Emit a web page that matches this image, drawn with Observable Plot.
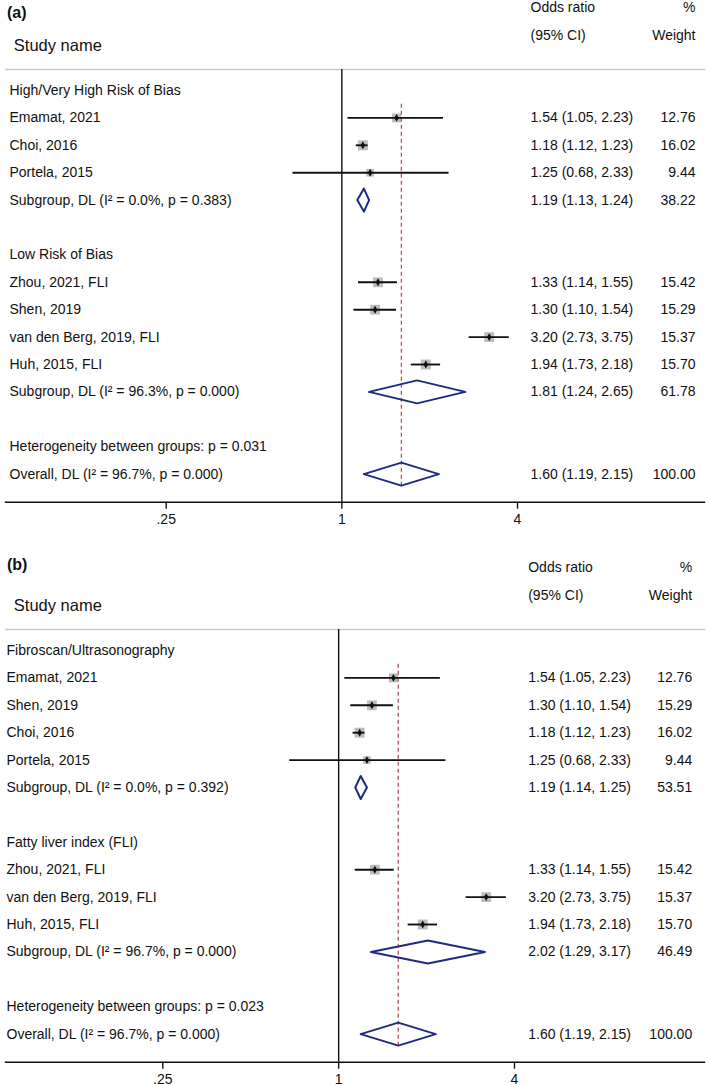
<!DOCTYPE html>
<html><head><meta charset="utf-8">
<script src="https://cdn.jsdelivr.net/npm/d3@7"></script>
<script src="https://cdn.jsdelivr.net/npm/@observablehq/plot@0.6"></script>
<style>
body{margin:0;background:#fff;}
#chart svg{display:block;}
</style></head><body><div id="chart"></div>
<script>
// ---------- shared ----------
const tickValues = [0.25, 1, 4];
const tickLabels = [".25", "1", "4"];
const headerOR = ["Odds ratio", "(95% CI)"];
const headerW = ["%", "Weight"];
const studyHeader = "Study name";

// ---------- panel (a) ----------
const groupsA = ["High/Very High Risk of Bias", "Low Risk of Bias"];
const studyA = ["Emamat, 2021", "Choi, 2016", "Portela, 2015", "Zhou, 2021, FLI", "Shen, 2019", "van den Berg, 2019, FLI", "Huh, 2015, FLI"];
const studyGroupA = [0, 0, 0, 1, 1, 1, 1];
const orA = [1.54, 1.18, 1.25, 1.33, 1.30, 3.20, 1.94];
const loA = [1.05, 1.12, 0.68, 1.14, 1.10, 2.73, 1.73];
const hiA = [2.23, 1.23, 2.33, 1.55, 1.54, 3.75, 2.18];
const weightA = [12.76, 16.02, 9.44, 15.42, 15.29, 15.37, 15.70];
const subLabelA = ["Subgroup, DL (I² = 0.0%, p = 0.383)", "Subgroup, DL (I² = 96.3%, p = 0.000)"];
const subOrA = [1.19, 1.81];
const subLoA = [1.13, 1.24];
const subHiA = [1.24, 2.65];
const subWeightA = [38.22, 61.78];
const hetA = "Heterogeneity between groups: p = 0.031";
const overallLabelA = "Overall, DL (I² = 96.7%, p = 0.000)";
const overallA = [1.60, 1.19, 2.15, 100.00]; // OR, lower, upper, weight

// ---------- panel (b) ----------
const groupsB = ["Fibroscan/Ultrasonography", "Fatty liver index (FLI)"];
const studyB = ["Emamat, 2021", "Shen, 2019", "Choi, 2016", "Portela, 2015", "Zhou, 2021, FLI", "van den Berg, 2019, FLI", "Huh, 2015, FLI"];
const studyGroupB = [0, 0, 0, 0, 1, 1, 1];
const orB = [1.54, 1.30, 1.18, 1.25, 1.33, 3.20, 1.94];
const loB = [1.05, 1.10, 1.12, 0.68, 1.14, 2.73, 1.73];
const hiB = [2.23, 1.54, 1.23, 2.33, 1.55, 3.75, 2.18];
const weightB = [12.76, 15.29, 16.02, 9.44, 15.42, 15.37, 15.70];
const subLabelB = ["Subgroup, DL (I² = 0.0%, p = 0.392)", "Subgroup, DL (I² = 96.7%, p = 0.000)"];
const subOrB = [1.19, 2.02];
const subLoB = [1.14, 1.29];
const subHiB = [1.25, 3.17];
const subWeightB = [53.51, 46.49];
const hetB = "Heterogeneity between groups: p = 0.023";
const overallLabelB = "Overall, DL (I² = 96.7%, p = 0.000)";
const overallB = [1.60, 1.19, 2.15, 100.00];

// ---------- build ----------
function buildRows(p) {
  const rows = []; let r = 0;
  p.groups.forEach((g, gi) => {
    rows.push({kind: "header", row: r++, label: g});
    p.study.forEach((s, i) => {
      if (p.studyGroup[i] === gi) rows.push({kind: "study", row: r++, label: s, or: p.or[i], lo: p.lo[i], hi: p.hi[i], w: p.w[i]});
    });
    rows.push({kind: "pooled", row: r++, label: p.subLabel[gi], or: p.subOr[gi], lo: p.subLo[gi], hi: p.subHi[gi], w: p.subW[gi]});
    r++;
  });
  rows.push({kind: "het", row: r++, label: p.het});
  rows.push({kind: "pooled", row: r++, label: p.overallLabel, or: p.overall[0], lo: p.overall[1], hi: p.overall[2], w: p.overall[3]});
  return rows;
}

const ROW0 = 90, ROWH = 27.4, AXIS = 501.7, SEP = 69, W = 709, ML = 5, MR = 5;
const yr = px => (px - ROW0) / ROWH;
const font = "'Liberation Sans', Arial, Helvetica, sans-serif";
const ink = "#111";

function panel(p, L) {
  const rows = buildRows(p);
  const last = rows[rows.length - 1].row;
  const studies = rows.filter(d => d.kind === "study");
  const pooled = rows.filter(d => d.kind === "pooled");
  const numeric = rows.filter(d => d.or != null);
  const H = 11.5 / ROWH;
  const dia = pooled.flatMap((d, i) => [
    {x: d.lo, y: d.row, id: i}, {x: d.or, y: d.row - H, id: i},
    {x: d.hi, y: d.row, id: i}, {x: d.or, y: d.row + H, id: i},
    {x: d.lo, y: d.row, id: i}
  ]);
  const fmt = d => `${d.or.toFixed(2)} (${d.lo.toFixed(2)}, ${d.hi.toFixed(2)})`;
  const leftDx = x => x - ML;
  const rightDx = x => x - (W - MR);
  return Plot.plot({
    width: W, height: L.height,
    marginLeft: ML, marginRight: MR, marginTop: SEP, marginBottom: L.height - AXIS,
    x: {type: "log", domain: [0.25, 4], range: [L.x025, L.x4]},
    y: {domain: [0, last], range: [ROW0, ROW0 + last * ROWH], axis: null},
    r: {domain: [0, 16], range: [0, 10 / Math.sqrt(Math.PI)]},
    style: {fontFamily: font, fontSize: "14px", color: ink, background: "#fff", overflow: "visible"},
    marks: [
      Plot.frame({anchor: "top", stroke: "#c9c9c9", strokeWidth: 1.5}),
      Plot.frame({anchor: "bottom", stroke: ink, strokeWidth: 1.4}),
      Plot.axisX({ticks: tickValues, tickFormat: d => tickLabels[tickValues.indexOf(d)], tickSize: 7, tickPadding: 5, fontSize: 14, strokeWidth: 1.4, label: null}),
      Plot.ruleX([1], {stroke: ink, strokeWidth: 1.4}),
      Plot.dot(studies, {x: "or", y: "row", r: "w", symbol: "square", fill: "#bdbdbd"}),
      Plot.ruleX([p.overall[0]], {y1: 0.5, y2: last + 0.5, stroke: "#b5525c", strokeDasharray: "4,3", strokeWidth: 1.3}),
      Plot.ruleY(studies, {y: "row", x1: "lo", x2: "hi", stroke: ink, strokeWidth: 1.9}),
      Plot.dot(studies, {x: "or", y: "row", r: 2.4, symbol: "diamond", fill: ink}),
      Plot.line(dia, {x: "x", y: "y", z: "id", stroke: "#1c2a80", strokeWidth: 2}),
      Plot.text(rows, {y: "row", text: "label", frameAnchor: "left", dx: leftDx(L.leftX), textAnchor: "start", fill: ink}),
      Plot.text(numeric, {y: "row", text: fmt, frameAnchor: "left", dx: leftDx(L.orX), textAnchor: "start", fill: ink}),
      Plot.text(numeric, {y: "row", text: d => d.w.toFixed(2), frameAnchor: "right", dx: rightDx(L.wX), textAnchor: "end", fill: ink}),
      Plot.text([p.tag], {y: yr(L.tagY), text: d => d, frameAnchor: "left", dx: leftDx(6.5), textAnchor: "start", fontWeight: "bold", fontSize: 16, fill: ink}),
      Plot.text([studyHeader], {y: yr(45), text: d => d, frameAnchor: "left", dx: leftDx(13.3), textAnchor: "start", fontSize: 16.5, fill: ink}),
      Plot.text(headerOR, {y: (d, i) => yr([7.5, 35][i]), text: d => d, frameAnchor: "left", dx: leftDx(L.orX), textAnchor: "start", fill: ink}),
      Plot.text(headerW, {y: (d, i) => yr([7.5, 35][i]), text: d => d, frameAnchor: "right", dx: rightDx(L.wX), textAnchor: "end", fill: ink})
    ]
  });
}

const pA = {tag: "(a)", groups: groupsA, study: studyA, studyGroup: studyGroupA, or: orA, lo: loA, hi: hiA, w: weightA,
  subLabel: subLabelA, subOr: subOrA, subLo: subLoA, subHi: subHiA, subW: subWeightA, het: hetA, overallLabel: overallLabelA, overall: overallA};
const pB = {tag: "(b)", groups: groupsB, study: studyB, studyGroup: studyGroupB, or: orB, lo: loB, hi: hiB, w: weightB,
  subLabel: subLabelB, subOr: subOrB, subLo: subLoB, subHi: subHiB, subW: subWeightB, het: hetB, overallLabel: overallLabelB, overall: overallB};

const chart = document.getElementById("chart");
chart.append(panel(pA, {height: 560, x025: 165.7, x4: 517, leftX: 9, orX: 530, wX: 695, tagY: 12}));
chart.append(panel(pB, {height: 525, x025: 162.3, x4: 514, leftX: 6, orX: 527.7, wX: 691.7, tagY: 4.2}));
</script></body></html>
